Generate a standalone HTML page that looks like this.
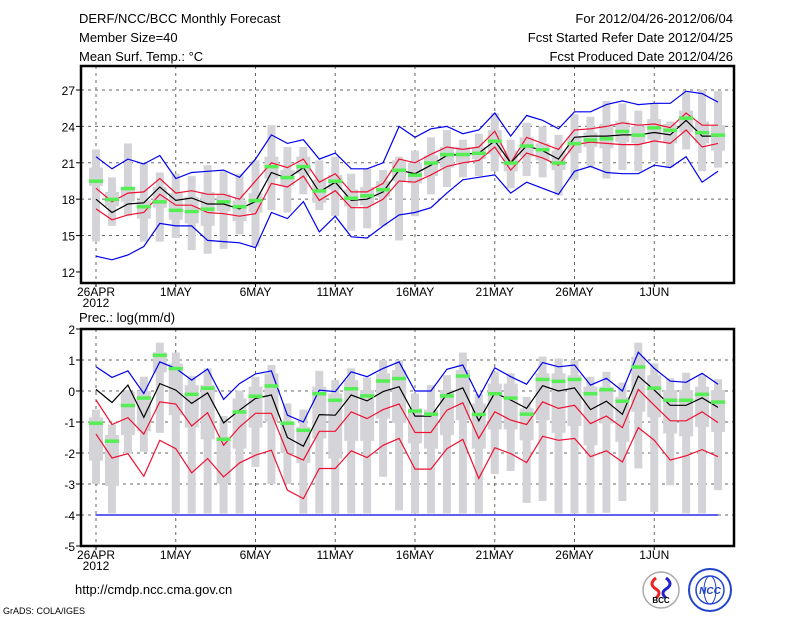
<!DOCTYPE html>
<html><head><meta charset="utf-8"><style>
html,body{margin:0;padding:0;background:#fff;}
svg{display:block;font-family:"Liberation Sans",sans-serif;}
</style></head><body>
<svg id="chart" width="800" height="618" viewBox="0 0 800 618" xmlns="http://www.w3.org/2000/svg">
<g font-size="13" fill="#000">
<text x="79" y="23">DERF/NCC/BCC Monthly Forecast</text>
<text x="79" y="42">Member Size=40</text>
<text x="79" y="61">Mean Surf. Temp.: °C</text>
<text x="733" y="23" text-anchor="end">For 2012/04/26-2012/06/04</text>
<text x="733" y="42" text-anchor="end">Fcst Started Refer Date 2012/04/25</text>
<text x="733" y="61" text-anchor="end">Fcst Produced Date 2012/04/26</text>
</g>
<text x="79" y="322" font-size="13">Prec.: log(mm/d)</text>
<g id="top"></g>
<g id="bot"></g>
<text x="75" y="594" font-size="13">http://cmdp.ncc.cma.gov.cn</text>
<text x="3" y="614" font-size="9">GrADS: COLA/IGES</text>
<g>
<circle cx="661" cy="590" r="18" fill="#fff" stroke="#aaa" stroke-width="1.5"/>
<path d="M656 578 q-8 6 0 11 q6 4 0 9" fill="none" stroke="#e22" stroke-width="3"/>
<path d="M666 578 q8 6 0 11 q-6 4 0 9" fill="none" stroke="#22c" stroke-width="3"/>
<text x="661" y="603" font-size="8" text-anchor="middle" font-weight="bold">BCC</text>
</g>
<g>
<circle cx="710" cy="590" r="21" fill="#fff" stroke="#24c" stroke-width="2"/>
<circle cx="710" cy="590" r="14" fill="none" stroke="#24c" stroke-width="1.5"/>
<ellipse cx="710" cy="590" rx="6" ry="14" fill="none" stroke="#24c" stroke-width="1"/>
<text x="710" y="594" font-size="10" text-anchor="middle" fill="#24c" font-weight="bold" font-style="italic">NCC</text>
</g>
</svg>
<script>
// ---------- data ----------
const dayLabels = ["26APR","1MAY","6MAY","11MAY","16MAY","21MAY","26MAY","1JUN"];
const tTicks = [12,15,18,21,24,27];
const pTicks = [2,1,0,-1,-2,-3,-4,-5];
const tMax = [22.1,19.8,22.6,21.0,20.2,20.1,19.9,20.8,20.3,20.1,21.2,24.1,22.3,22.3,21.2,21.5,20.1,20.5,20.4,21.5,22.0,23.1,23.7,22.9,23.4,25.1,22.9,24.3,24.0,23.3,25.0,24.8,26.1,25.9,25.3,25.9,24.4,26.9,27.0,26.9];
const tMin = [14.5,15.8,16.6,14.5,14.5,14.8,13.8,13.5,13.9,15.1,14.1,17.1,16.9,18.4,17.1,16.6,15.4,15.6,15.8,14.6,16.6,18.4,19.0,19.8,19.9,20.3,18.9,19.9,19.8,18.3,19.6,20.7,19.7,20.4,20.3,21.1,20.6,22.1,20.3,20.6];
const tQ3 = [20.6,18.6,19.0,17.9,19.0,18.5,18.2,18.6,18.4,17.9,18.5,21.5,20.4,21.5,19.6,20.0,18.8,19.0,19.5,21.2,21.0,21.6,22.3,22.3,22.3,23.7,22.0,23.1,22.6,22.0,23.2,23.5,24.2,24.4,24.0,24.6,24.2,25.3,24.4,24.1];
const tQ1 = [19.1,17.4,17.8,16.4,17.3,16.3,16.0,15.8,17.0,16.2,16.9,19.7,19.1,20.1,17.7,18.8,17.4,17.5,18.2,19.5,19.3,19.9,20.6,21.0,21.3,21.7,20.3,21.5,21.2,20.4,21.8,22.3,22.2,22.7,22.6,22.9,22.6,23.5,22.6,22.0];
const tObs = [19.5,18.0,18.9,17.4,17.8,17.1,17.0,17.2,17.8,17.4,17.9,20.7,19.8,20.7,18.7,19.5,18.1,18.3,18.8,20.4,20.0,21.0,21.7,21.7,21.8,22.8,21.0,22.4,22.1,21.0,22.6,22.9,23.0,23.6,23.3,23.9,23.7,24.7,23.5,23.3];
const tBlueHi = [21.5,20.5,21.3,20.9,21.6,19.7,20.2,20.3,20.4,19.8,21.3,23.3,22.6,22.9,21.3,21.8,20.5,20.5,21.0,24.0,23.1,23.8,24.0,23.4,23.7,25.1,23.2,24.9,24.5,23.8,25.2,25.2,25.8,26.1,25.8,25.9,25.9,26.9,26.7,26.0];
const tBlueLo = [13.3,13.0,13.4,14.1,16.0,15.8,15.8,14.6,14.5,14.4,14.0,16.9,16.4,17.8,15.3,16.6,14.9,14.8,15.8,16.7,16.9,17.3,18.5,19.6,19.8,20.0,18.5,19.4,18.9,18.4,20.3,20.7,20.2,20.1,20.1,20.8,20.6,21.5,19.4,20.3];
const tRedHi = [18.9,17.8,18.5,18.6,19.7,18.5,18.7,18.4,18.4,18.0,19.5,21.0,20.6,21.3,19.4,20.1,18.6,18.6,19.3,21.3,21.0,21.7,22.3,22.1,22.3,23.6,21.0,23.1,22.6,22.1,23.7,23.8,24.0,24.3,24.1,24.2,23.9,25.1,24.1,24.1];
const tRedLo = [17.2,16.3,16.7,16.9,18.4,17.5,17.5,16.9,16.8,16.6,16.8,19.3,19.0,19.9,17.9,18.7,17.3,17.3,18.0,19.5,19.4,20.0,20.7,21.0,21.2,22.3,20.4,21.8,21.4,20.8,22.5,22.7,22.6,22.5,22.5,22.8,22.6,23.7,22.3,22.6];
const tMean = [18.0,16.9,17.6,17.7,19.0,17.9,18.1,17.6,17.6,17.2,17.8,20.2,19.7,20.6,18.6,19.4,17.9,18.0,18.6,20.4,20.1,20.8,21.6,21.7,21.8,22.8,21.0,22.4,22.0,21.3,23.1,23.2,23.2,23.3,23.3,23.5,23.3,24.5,23.2,23.2];

const pMax = [-0.6,-1.08,0.03,0.46,1.56,1.24,0.48,0.73,-0.81,0.01,0.46,0.84,-0.4,-0.6,0.65,0.35,0.73,0.44,1.0,1.0,-0.08,0.19,0.51,1.24,-0.1,0.62,0.57,-0.19,1.11,1.05,1.0,0.46,0.62,0.27,1.56,0.89,0.41,0.59,0.51,0.38];
const pMin = [-3.0,-3.95,-2.02,-1.96,-1.35,-3.95,-3.95,-3.95,-3.95,-3.95,-2.45,-3.0,-3.0,-3.95,-3.95,-3.95,-3.95,-3.95,-2.77,-3.85,-3.95,-3.95,-3.95,-3.95,-3.95,-2.68,-2.58,-3.61,-3.55,-3.95,-3.95,-3.95,-3.93,-3.55,-2.5,-3.9,-3.04,-3.95,-3.95,-3.2];
const pQ3 = [-0.85,-1.42,-0.02,0.0,1.25,0.89,0.19,0.19,-1.48,-0.24,0.14,0.57,-1.05,-1.16,0.14,-0.08,0.35,0.03,0.57,0.68,-0.56,-0.6,0.03,0.68,-0.4,0.24,0.24,-0.56,0.57,0.57,0.51,0.14,0.14,-0.19,1.11,0.51,0.03,0.03,0.14,0.03];
const pQ1 = [-2.25,-3.06,-1.42,-1.3,0.6,-0.78,-1.18,-1.56,-2.99,-1.86,-1.18,-1.0,-2.0,-2.32,-1.53,-2.18,-1.61,-1.61,-0.89,-1.03,-1.69,-1.86,-1.42,-0.94,-1.86,-1.24,-1.24,-1.59,-0.94,-1.35,-1.13,-1.75,-1.05,-1.64,-0.67,-0.85,-1.37,-1.46,-1.16,-1.32];
const pObs = [-1.03,-1.61,-0.46,-0.22,1.16,0.73,-0.1,0.1,-1.55,-0.67,-0.16,0.17,-1.03,-1.26,-0.08,-0.29,0.08,-0.15,0.33,0.41,-0.64,-0.74,-0.15,0.49,-0.75,-0.08,-0.22,-0.74,0.38,0.32,0.38,-0.08,0.05,-0.32,0.78,0.1,-0.29,-0.29,-0.1,-0.35];
const pBlueHi = [0.78,0.44,0.65,-0.08,0.94,0.73,0.35,0.71,-0.27,0.24,0.55,0.65,-0.78,-1.0,0.03,-0.02,0.62,0.46,0.73,0.94,0.0,0.0,0.7,0.84,-0.21,0.75,0.46,0.22,0.92,0.78,0.84,0.19,0.41,0.0,1.25,0.73,0.32,0.28,0.57,0.22];
const pBlueLo = [-4,-4,-4,-4,-4,-4,-4,-4,-4,-4,-4,-4,-4,-4,-4,-4,-4,-4,-4,-4,-4,-4,-4,-4,-4,-4,-4,-4,-4,-4,-4,-4,-4,-4,-4,-4,-4,-4,-4,-4];
const pRedHi = [-0.29,-1.08,-0.86,-1.39,-0.35,-0.42,-1.13,-0.7,-1.75,-1.16,-0.72,-0.72,-2.0,-2.23,-1.3,-1.3,-0.67,-0.89,-0.6,-0.42,-1.34,-1.34,-0.62,-0.38,-1.53,-0.67,-0.94,-1.08,-0.35,-0.56,-0.46,-1.05,-0.81,-1.18,0.05,-0.46,-0.96,-0.96,-0.67,-1.02];
const pRedLo = [-1.39,-2.16,-2.02,-2.75,-1.59,-1.86,-2.64,-2.18,-2.77,-2.32,-2.07,-1.91,-3.2,-3.47,-2.5,-2.5,-1.93,-2.15,-1.75,-1.53,-2.52,-2.52,-1.86,-1.56,-2.82,-1.83,-2.02,-2.31,-1.46,-1.59,-1.53,-2.12,-1.93,-2.29,-1.18,-1.59,-2.23,-2.09,-1.89,-2.12];
const pMean = [0.05,-0.37,0.19,-0.85,0.24,0.03,-0.4,-0.06,-1.03,-0.62,-0.24,-0.13,-1.5,-1.78,-0.76,-0.78,-0.13,-0.32,-0.02,0.14,-0.81,-0.81,-0.1,0.1,-0.96,-0.06,-0.29,-0.56,0.17,0.0,0.1,-0.6,-0.33,-0.75,0.48,0.03,-0.46,-0.46,-0.22,-0.53];

// ---------- drawing ----------
const NS = "http://www.w3.org/2000/svg";
const X0 = 81, X1 = 734;
function xDay(d){ return 96 + d * 15.95; }
function mk(tag, attrs, parent){
  const e = document.createElementNS(NS, tag);
  for (const k in attrs) e.setAttribute(k, attrs[k]);
  parent.appendChild(e);
  return e;
}
function panel(g, yScale, yTop, yBot, ticks, gridTicks, data, showYear){
  const [mx, mn, q3, q1, obs, bh, bl, rh, rl, mean] = data;
  // grid
  gridTicks.forEach(v => {
    const l = mk("line", {x1:X0, x2:X1, y1:yScale(v), y2:yScale(v), stroke:"#666", "stroke-width":1, "stroke-dasharray":"3,4"}, g);
    
    
  });
  for (let d = 0; d < 40; d += 5) {
    const l = mk("line", {x1:xDay(d), x2:xDay(d), y1:yTop, y2:yBot, stroke:"#666", "stroke-width":1, "stroke-dasharray":"3,4"}, g);
    
    
  }
  // bars
  for (let i = 0; i < 40; i++) {
    const x = xDay(i);
    const r1 = mk("rect", {x:x-4, width:8, y:yScale(mx[i]), height:yScale(mn[i])-yScale(mx[i]), fill:"#d4d4d8"}, g);
    
    
    const r2 = mk("rect", {x:x-7, width:14, y:yScale(q3[i]), height:yScale(q1[i])-yScale(q3[i]), fill:"#d4d4d8"}, g);
    
    
  }
  const lines = [[bh,"#0000ee","upper-envelope"],[bl,"#0000ee","lower-envelope"],[rh,"#ee1133","upper-spread"],[rl,"#ee1133","lower-spread"],[mean,"#000","ensemble-mean"]];
  lines.forEach(([arr,col,nm]) => {
    const p = mk("polyline", {points: arr.map((v,i)=>xDay(i).toFixed(1)+","+yScale(v).toFixed(1)).join(" "), fill:"none", stroke:col, "stroke-width":1.2}, g);
    
    
  });
  for (let i = 0; i < 40; i++) {
    const r = mk("rect", {x:xDay(i)-7, width:14, y:yScale(obs[i])-1.5, height:3.5, fill:"#55ee55"}, g);
    
    
  }
  // frame
  const f = mk("rect", {x:X0, y:yTop, width:X1-X0, height:yBot-yTop, fill:"none", stroke:"#000", "stroke-width":2.5}, g);
  
  
  ticks.forEach(v => {
    const t = mk("text", {x:75, y:yScale(v)+5, "text-anchor":"end", "font-size":12}, g);
    t.textContent = v;
    
    
    const tk = mk("line", {x1:X0-5, x2:X0, y1:yScale(v), y2:yScale(v), stroke:"#000", "stroke-width":1}, g);
    
    
  });
  dayLabels.forEach((lab, k) => {
    const x = xDay(k*5);
    const t = mk("text", {x:x, y:yBot+13, "text-anchor":"middle", "font-size":12}, g);
    t.textContent = lab;
    
    
    const tk = mk("line", {x1:x, x2:x, y1:yBot, y2:yBot+4, stroke:"#000"}, g);
    
    
  });
  if (showYear) {
    const t = mk("text", {x:96, y:yBot+24, "text-anchor":"middle", "font-size":12}, g);
    t.textContent = "2012";
    
    
  }
}
const tY = v => 90 + (27 - v) * 12.13;
const pY = v => 329 + (2 - v) * 31;
panel(document.getElementById("top"), tY, 66, 283, tTicks, [15,18,21,24,27], [tMax,tMin,tQ3,tQ1,tObs,tBlueHi,tBlueLo,tRedHi,tRedLo,tMean], true);
panel(document.getElementById("bot"), pY, 329, 546, pTicks, [1,0,-1,-2,-3,-4], [pMax,pMin,pQ3,pQ1,pObs,pBlueHi,pBlueLo,pRedHi,pRedLo,pMean], true);
</script>
</body></html>
